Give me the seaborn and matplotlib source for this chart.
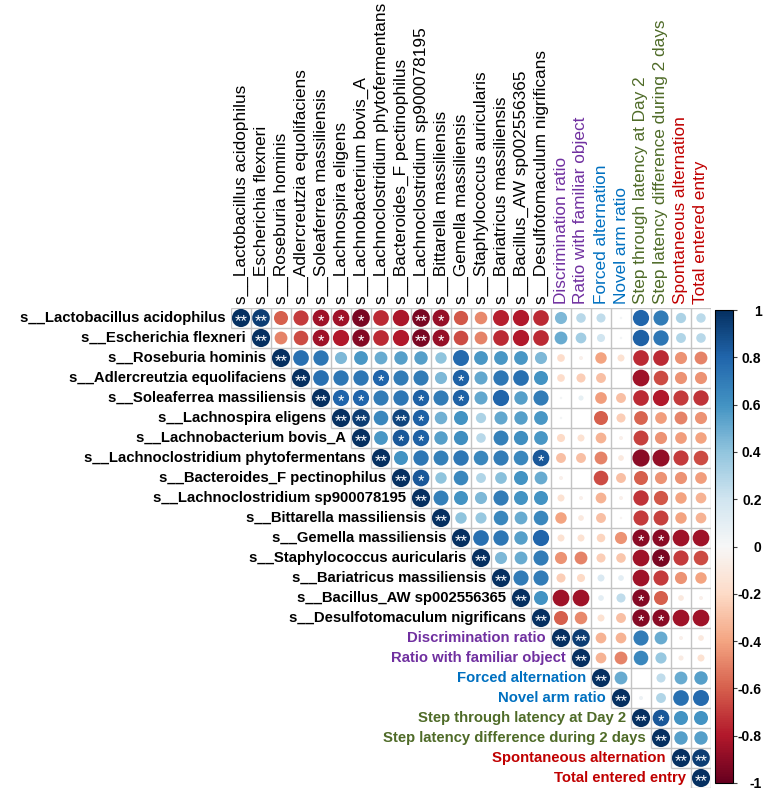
import numpy as np
import pandas as pd
import matplotlib
matplotlib.use("Agg")
import matplotlib.pyplot as plt
import seaborn as sns
from matplotlib.colors import Normalize
from matplotlib.cm import ScalarMappable

species = [
    "s__Lactobacillus acidophilus", "s__Escherichia flexneri", "s__Roseburia hominis",
    "s__Adlercreutzia equolifaciens", "s__Soleaferrea massiliensis", "s__Lachnospira eligens",
    "s__Lachnobacterium bovis_A", "s__Lachnoclostridium phytofermentans",
    "s__Bacteroides_F pectinophilus", "s__Lachnoclostridium sp900078195",
    "s__Bittarella massiliensis", "s__Gemella massiliensis", "s__Staphylococcus auricularis",
    "s__Bariatricus massiliensis", "s__Bacillus_AW sp002556365", "s__Desulfotomaculum nigrificans",
]
behaviors = [
    "Discrimination ratio", "Ratio with familiar object", "Forced alternation", "Novel arm ratio",
    "Step through latency at Day 2", "Step latency difference during 2 days",
    "Spontaneous alternation", "Total entered entry",
]
behavior_colors = ["#7030A0", "#7030A0", "#0070C0", "#0070C0",
                   "#4F6B28", "#4F6B28", "#C00000", "#C00000"]
labels = species + behaviors
label_colors = ["black"] * len(species) + behavior_colors

# upper triangle, each row starts at the diagonal
upper = [
    [1, 0.95, -0.6, -0.7, -0.85, -0.85, -0.95, -0.75, -0.82, -0.95, -0.87, -0.62, -0.48, -0.78, -0.8, -0.75, 0.45, 0.28, 0.25, 0.02, 0.8, 0.7, 0.32, 0.27],
    [1, -0.5, -0.65, -0.85, -0.8, -0.92, -0.75, -0.8, -0.95, -0.87, -0.65, -0.5, -0.75, -0.8, -0.75, 0.5, 0.35, 0.2, 0.02, 0.82, 0.72, 0.3, 0.28],
    [1, 0.75, 0.72, 0.45, 0.58, 0.5, 0.55, 0.55, 0.4, 0.78, 0.58, 0.58, 0.58, 0.45, -0.18, -0.05, -0.4, -0.15, -0.75, -0.75, -0.45, -0.5],
    [1, 0.75, 0.72, 0.72, 0.8, 0.7, 0.7, 0.45, 0.82, 0.52, 0.72, 0.75, 0.6, -0.18, -0.25, -0.3, 0.0, -0.85, -0.65, -0.45, -0.45],
    [1, 0.8, 0.8, 0.7, 0.72, 0.82, 0.7, 0.82, 0.52, 0.8, 0.55, 0.7, 0.02, 0.08, -0.42, -0.3, -0.75, -0.8, -0.7, -0.72],
    [1, 0.95, 0.65, 0.92, 0.82, 0.48, 0.6, 0.32, 0.52, 0.55, 0.58, 0.02, 0.0, -0.6, -0.25, -0.58, -0.42, -0.5, -0.45],
    [1, 0.58, 0.85, 0.82, 0.55, 0.62, 0.28, 0.68, 0.62, 0.58, -0.2, -0.15, -0.35, -0.05, -0.68, -0.45, -0.42, -0.4],
    [1, 0.6, 0.72, 0.68, 0.72, 0.65, 0.7, 0.65, 0.85, -0.3, -0.3, -0.5, -0.1, -0.9, -0.88, -0.7, -0.65],
    [1, 0.85, 0.4, 0.65, 0.3, 0.42, 0.6, 0.5, -0.05, 0.0, -0.65, -0.3, -0.6, -0.45, -0.45, -0.42],
    [1, 0.68, 0.6, 0.45, 0.7, 0.6, 0.6, -0.15, -0.05, -0.35, -0.05, -0.72, -0.62, -0.4, -0.35],
    [1, 0.4, 0.38, 0.65, 0.5, 0.65, -0.4, -0.1, -0.3, -0.02, -0.7, -0.68, -0.4, -0.35],
    [1, 0.75, 0.72, 0.55, 0.8, -0.15, -0.15, -0.22, -0.45, -0.9, -0.9, -0.85, -0.85],
    [1, 0.45, 0.5, 0.7, -0.45, -0.5, -0.25, -0.28, -0.85, -0.95, -0.7, -0.65],
    [1, 0.7, 0.7, -0.25, -0.2, 0.15, 0.1, -0.85, -0.7, -0.45, -0.4],
    [1, 0.6, -0.85, -0.85, 0.1, 0.25, -0.92, -0.6, -0.1, -0.05],
    [1, -0.6, -0.48, -0.15, -0.3, -0.92, -0.9, -0.85, -0.85],
    [1, 0.95, -0.35, -0.35, 0.7, 0.5, -0.05, -0.1],
    [1, -0.35, -0.5, 0.65, 0.38, -0.08, -0.15],
    [1, 0.5, 0.0, 0.25, 0.5, 0.55],
    [1, 0.05, 0.3, 0.75, 0.78],
    [1, 0.85, 0.6, 0.6],
    [1, 0.55, 0.55],
    [1, 0.95],
    [1],
]

# significance marks off the diagonal (diagonal is always **)
stars = [
    (0, 1, "**"), (0, 4, "*"), (0, 5, "*"), (0, 6, "*"), (0, 9, "**"), (0, 10, "*"),
    (1, 4, "*"), (1, 6, "*"), (1, 9, "**"), (1, 10, "*"),
    (3, 7, "*"), (3, 11, "*"),
    (4, 5, "*"), (4, 6, "*"), (4, 9, "*"), (4, 11, "*"),
    (5, 6, "**"), (5, 8, "**"), (5, 9, "*"),
    (6, 8, "*"), (6, 9, "*"),
    (7, 15, "*"), (8, 9, "*"),
    (11, 20, "*"), (11, 21, "*"), (12, 21, "*"), (14, 20, "*"),
    (15, 20, "*"), (15, 21, "*"),
    (16, 17, "**"), (20, 21, "*"), (22, 23, "**"),
]

n = len(labels)
recs = []
for i, row in enumerate(upper):
    for k, r in enumerate(row):
        recs.append({"i": i, "j": i + k, "r": r})
df = pd.DataFrame(recs)
df["x"] = df["j"] + 0.5
df["y"] = df["i"] + 0.5
df["absr"] = df["r"].abs()

plt.rcParams["font.family"] = ["Liberation Sans", "DejaVu Sans"]

fig = plt.figure(figsize=(7.69, 7.90), dpi=100)
ax = fig.add_axes([231 / 769, 2 / 790, 480 / 769, 480 / 790])

# staircase grid around the upper-triangle cells
grid_kw = dict(color="#c4c4c4", linewidth=1.0, zorder=1)
for k in range(n + 1):
    ax.hlines(k, max(k - 1, 0), n, **grid_kw)
    ax.vlines(k, 0, min(k + 1, n), **grid_kw)

sns.scatterplot(data=df, x="x", y="y", hue="r", palette="RdBu", hue_norm=(-1, 1),
                size="absr", sizes=(0, 170), size_norm=(0, 1), linewidth=0,
                legend=False, ax=ax, zorder=3)

for i in range(n):
    ax.text(i + 0.5, i + 0.68, "**", ha="center", va="center", color="white", fontsize=12, zorder=4)
for i, j, s in stars:
    ax.text(j + 0.5, i + 0.68, s, ha="center", va="center", color="white", fontsize=12, zorder=4)

for i, (lab, c) in enumerate(zip(labels, label_colors)):
    ax.text(i - 0.25, i + 0.5, lab, ha="right", va="center", color=c,
            fontsize=10.7, fontweight="bold", clip_on=False)
    ax.text(i + 0.5, -0.2, lab, ha="center", va="bottom", rotation=90, color=c,
            fontsize=12.4, clip_on=False)

ax.set_xlim(0, n)
ax.set_ylim(n, 0)
ax.set_xlabel("")
ax.set_ylabel("")
ax.set_xticks([])
ax.set_yticks([])
for sp in ax.spines.values():
    sp.set_visible(False)

cax = fig.add_axes([715 / 769, 7 / 790, 18 / 769, 473 / 790])
sm = ScalarMappable(norm=Normalize(-1, 1), cmap="RdBu")
tick_vals = np.round(np.arange(-1, 1.01, 0.2), 1) + 0.0
cb = fig.colorbar(sm, cax=cax, ticks=tick_vals)
cb.ax.set_yticklabels([f"{v:g}" for v in tick_vals], fontweight="bold", fontsize=10, ha="right")
cb.ax.tick_params(length=3, width=0.8, color="#444444", pad=17.5)
cb.outline.set_linewidth(0.8)

fig.savefig("out.png", dpi=100)
